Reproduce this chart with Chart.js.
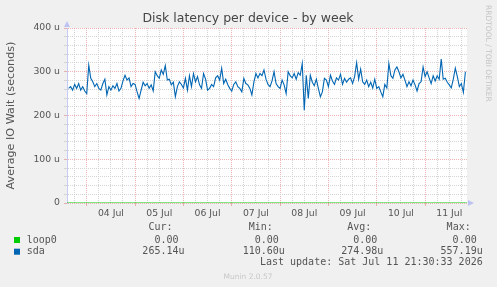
<!DOCTYPE html>
<html lang="en">
<head>
    <meta charset="UTF-8">
    <title>Disk latency per device - by week</title>
    <script src="https://cdn.jsdelivr.net/npm/chart.js"></script>
    <style>
        body { margin: 0; background: #f0f0f0; }
        canvas { display: block; }
    </style>
</head>
<body>
    <canvas id="chart" width="497" height="287"></canvas>

    <script>
        // sda: hourly averages in microseconds, first sample at 03 Jul 15:00 (hour 15)
        const sdaStartHour = 15;
        const sdaValues = [
            262,266,258,271,262,273,258,266,256,250,315,285,277,266,273,262,258,273,283,247,266,258,268,262,273,256,262,279,292,281,286,266,273,
            271,254,239,258,276,268,273,262,270,256,300,291,285,304,294,314,281,283,270,276,243,266,277,271,263,285,258,291,266,296,277,289,270,262,
            296,283,258,262,271,266,286,291,281,308,273,283,271,262,256,271,277,266,262,254,285,273,270,262,247,277,296,286,296,291,304,283,271,266,
            279,300,273,266,262,281,270,250,300,291,286,296,283,298,292,319,212,292,239,292,276,268,283,262,243,254,285,281,266,292,279,271,286,
            281,294,271,285,276,283,286,273,289,321,283,306,277,271,281,266,276,263,283,262,266,254,243,271,263,319,291,285,304,311,300,286,294,281,
            266,277,268,281,270,256,273,277,311,289,300,286,273,291,279,291,283,329,283,285,276,270,263,283,308,289,266,273,253,300
        ];
        // loop0 stays at zero the whole week (start and end of the window)
        const loop0Values = [0, 0];

        const dayLabels = ['03 Jul', '04 Jul', '05 Jul', '06 Jul', '07 Jul', '08 Jul', '09 Jul', '10 Jul', '11 Jul'];
        const yTickLabels = ['0', '100 u', '200 u', '300 u', '400 u'];

        const legendNames = ['loop0', 'sda'];
        const legendColors = ['#00cc00', '#0066b3'];
        const legendHeaders = ['Cur:', 'Min:', 'Avg:', 'Max:'];
        const loop0Stats = ['0.00', '0.00', '0.00', '0.00'];
        const sdaStats = ['265.14u', '110.60u', '274.98u', '557.19u'];
        const lastUpdate = 'Last update: Sat Jul 11 21:30:33 2026';

        // visible window, hours after 03 Jul 00:00
        const xMin = 14.2, xMax = 212.8;

        const majorColor = 'rgba(225,130,130,0.6)';
        const minorColor = '#d4d4d4';
        const textColor = '#555555';

        Chart.defaults.font.family = "'DejaVu Sans', sans-serif";

        const muninDecor = {
            id: 'muninDecor',
            beforeDraw: function(chart) {
                var ctx = chart.ctx, a = chart.chartArea;
                ctx.save();
                ctx.fillStyle = '#f0f0f0';
                ctx.fillRect(0, 0, chart.width, chart.height);
                ctx.fillStyle = '#ffffff';
                ctx.fillRect(a.left, a.top, a.right - a.left, a.bottom - a.top);
                ctx.restore();
            },
            afterDraw: function(chart) {
                var ctx = chart.ctx, a = chart.chartArea;
                ctx.save();

                // title
                ctx.fillStyle = '#454545';
                ctx.font = "12.5px 'DejaVu Sans'";
                ctx.textAlign = 'center';
                ctx.textBaseline = 'middle';
                ctx.fillText('Disk latency per device - by week', 248, 19);

                // axis arrows
                ctx.fillStyle = '#bcc2f2';
                ctx.beginPath();
                ctx.moveTo(a.left - 3, a.top - 1);
                ctx.lineTo(a.left + 3, a.top - 1);
                ctx.lineTo(a.left, a.top - 7);
                ctx.closePath();
                ctx.fill();
                ctx.beginPath();
                ctx.moveTo(a.right + 1, a.bottom - 3);
                ctx.lineTo(a.right + 1, a.bottom + 3);
                ctx.lineTo(a.right + 7, a.bottom);
                ctx.closePath();
                ctx.fill();

                // watermark on the right
                ctx.save();
                ctx.translate(487.5, 5);
                ctx.rotate(Math.PI / 2);
                ctx.fillStyle = '#c4c4c4';
                ctx.font = "7.5px 'DejaVu Sans'";
                ctx.textAlign = 'left';
                ctx.textBaseline = 'middle';
                ctx.fillText('RRDTOOL / TOBI OETIKER', 0, 0);
                ctx.restore();

                // legend table
                var colRight = [184.5, 284.8, 383.3, 482.7];
                var rowY = [240, 251.7];
                ctx.font = "10px 'DejaVu Sans Mono'";
                ctx.fillStyle = textColor;
                ctx.textAlign = 'right';
                legendHeaders.forEach(function(h, i) {
                    ctx.fillText(h, colRight[i] - 12, 227.7);
                });
                [loop0Stats, sdaStats].forEach(function(stats, r) {
                    ctx.fillStyle = legendColors[r];
                    ctx.fillRect(14, rowY[r] - 3, 6, 6);
                    ctx.fillStyle = textColor;
                    ctx.textAlign = 'left';
                    ctx.fillText(legendNames[r], 26.7, rowY[r]);
                    ctx.textAlign = 'right';
                    stats.forEach(function(s, i) {
                        var shift = s.endsWith('u') ? 0 : 6;
                        ctx.fillText(s, colRight[i] - shift, rowY[r]);
                    });
                });
                ctx.fillText(lastUpdate, 482.7, 262.7);

                ctx.textAlign = 'center';
                ctx.fillStyle = '#c8c8c8';
                ctx.font = "7.5px 'DejaVu Sans'";
                ctx.fillText('Munin 2.0.57', 248, 276.7);

                ctx.restore();
            }
        };

        var ctx = document.getElementById('chart').getContext('2d');
        var chart = new Chart(ctx, {
            type: 'line',
            data: {
                datasets: [
                    {
                        label: 'loop0',
                        data: loop0Values.map(function(v, i) {
                            return { x: i === 0 ? xMin : xMax, y: v };
                        }),
                        borderColor: '#00cc00',
                        borderWidth: 1,
                        pointRadius: 0,
                        fill: false
                    },
                    {
                        label: 'sda',
                        data: sdaValues.map(function(v, i) {
                            return { x: sdaStartHour + i, y: v };
                        }),
                        borderColor: '#0066b3',
                        borderWidth: 1.1,
                        pointRadius: 0,
                        tension: 0,
                        fill: false
                    }
                ]
            },
            options: {
                responsive: false,
                animation: false,
                events: [],
                layout: { padding: { top: 28, right: 30, left: 0, bottom: 0 } },
                plugins: {
                    legend: { display: false },
                    tooltip: { enabled: false },
                    title: { display: false }
                },
                scales: {
                    x: {
                        type: 'linear',
                        min: xMin,
                        max: xMax,
                        afterBuildTicks: function(scale) {
                            var t = [];
                            for (var h = 18; h <= 212; h += 6) t.push({ value: h });
                            scale.ticks = t;
                        },
                        afterFit: function(scale) { scale.height = 84; },
                        grid: {
                            color: function(c) { return c.tick && c.tick.value % 24 === 0 ? majorColor : minorColor; },
                            tickColor: function(c) { return c.tick && c.tick.value % 24 === 0 ? majorColor : 'rgba(0,0,0,0)'; },
                            tickLength: 3,
                            lineWidth: 1
                        },
                        border: { display: false, dash: [1, 1] },
                        ticks: {
                            autoSkip: false,
                            maxRotation: 0,
                            minRotation: 0,
                            padding: 2,
                            color: textColor,
                            font: { size: 9.3 },
                            callback: function(value) {
                                return value % 24 === 12 ? dayLabels[Math.floor(value / 24)] : '';
                            }
                        }
                    },
                    y: {
                        min: 0,
                        max: 400,
                        afterFit: function(scale) { scale.width = 67; },
                        grid: {
                            color: function(c) { return c.tick && c.tick.value % 100 === 0 ? majorColor : minorColor; },
                            tickLength: 3,
                            lineWidth: 1
                        },
                        border: { display: true, color: '#c6cbf4', width: 1, dash: [1, 1] },
                        title: {
                            display: true,
                            text: 'Average IO Wait (seconds)',
                            color: textColor,
                            font: { size: 11.2 }
                        },
                        ticks: {
                            stepSize: 20,
                            autoSkip: false,
                            padding: 4,
                            color: textColor,
                            font: { size: 9.3 },
                            callback: function(value) {
                                return value % 100 === 0 ? yTickLabels[value / 100] : '';
                            }
                        }
                    }
                }
            },
            plugins: [muninDecor]
        });
    </script>
</body>
</html>
